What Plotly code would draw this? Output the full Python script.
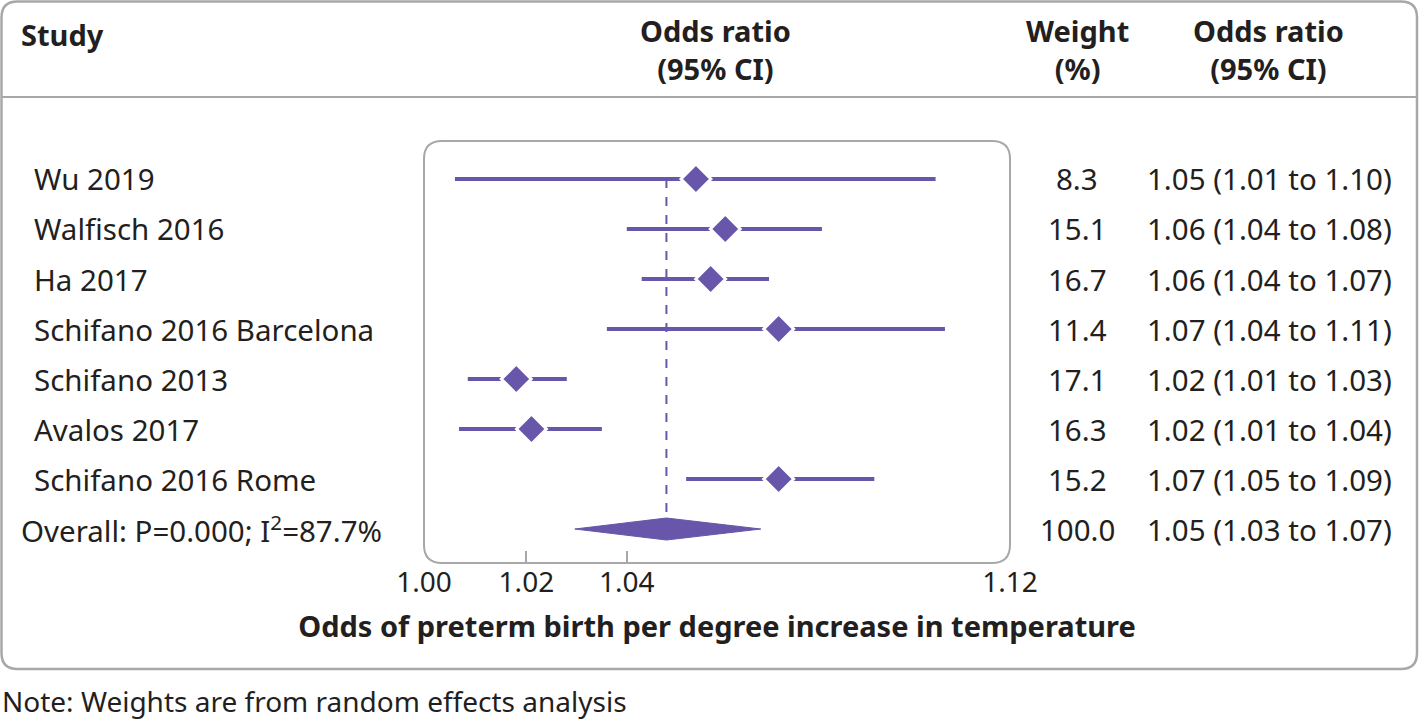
import plotly.graph_objects as go

studies = ["Wu 2019", "Walfisch 2016", "Ha 2017", "Schifano 2016 Barcelona",
           "Schifano 2013", "Avalos 2017", "Schifano 2016 Rome"]
odds = [1.054, 1.060, 1.057, 1.071, 1.018, 1.021, 1.071]
ci_low = [1.006, 1.040, 1.043, 1.036, 1.0085, 1.0068, 1.052]
ci_high = [1.104, 1.080, 1.069, 1.106, 1.028, 1.035, 1.091]
weights = ["8.3", "15.1", "16.7", "11.4", "17.1", "16.3", "15.2"]
or_text = ["1.05 (1.01 to 1.10)", "1.06 (1.04 to 1.08)", "1.06 (1.04 to 1.07)",
           "1.07 (1.04 to 1.11)", "1.02 (1.01 to 1.03)", "1.02 (1.01 to 1.04)",
           "1.07 (1.05 to 1.09)"]
overall = 1.048
overall_low = 1.0296
overall_high = 1.0673
overall_label = "Overall: P=0.000; I<sup>2</sup>=87.7%"
overall_weight = "100.0"
overall_text = "1.05 (1.03 to 1.07)"
tick_vals = [1.00, 1.02, 1.04, 1.12]
tick_text = ["1.00", "1.02", "1.04", "1.12"]

W, H = 1419, 723
purple = "#6756aa"
ink = "#231f20"
grey = "#a8a8a8"
font = "Noto Sans"
fsize = 29.5

rows = list(range(len(studies), 0, -1))  # 7..1, overall at 0

fig = go.Figure()

# dashed overall line
fig.add_trace(go.Scatter(x=[overall, overall], y=[rows[0], 0], mode="lines",
                         line=dict(color=purple, width=2, dash="dash"),
                         hoverinfo="skip", showlegend=False))

# confidence intervals
xs, ys = [], []
for lo, hi, r in zip(ci_low, ci_high, rows):
    xs += [lo, hi, None]
    ys += [r, r, None]
fig.add_trace(go.Scatter(x=xs, y=ys, mode="lines",
                         line=dict(color=purple, width=4),
                         hoverinfo="skip", showlegend=False))

# point estimates
fig.add_trace(go.Scatter(x=odds, y=rows, mode="markers",
                         marker=dict(symbol="diamond", size=23, color=purple,
                                     line=dict(color="white", width=3)),
                         showlegend=False))

# overall diamond
dh = 0.22
fig.add_trace(go.Scatter(x=[overall_low, overall, overall_high, overall, overall_low],
                         y=[0, dh, 0, -dh, 0], mode="lines", fill="toself",
                         fillcolor=purple, line=dict(color=purple, width=1),
                         hoverinfo="skip", showlegend=False))

x0p, x1p = 424 / W, 1010 / W
y0p, y1p = 1 - 563 / H, 1 - 141 / H

fig.update_xaxes(type="log", range=[0, 0.04922], domain=[x0p, x1p], automargin=False,
                 tickvals=tick_vals, ticktext=tick_text, ticks="",
                 tickfont=dict(family=font, size=28, color=ink),
                 showgrid=False, zeroline=False, showline=False,
                 minor=dict(tickvals=[1.02, 1.04], ticks="inside", ticklen=12,
                            tickwidth=2, tickcolor=grey, showgrid=False),
                 title=dict(text="<b>Odds of preterm birth per degree increase in temperature</b>",
                            font=dict(family=font, size=29, color=ink), standoff=17))
fig.update_yaxes(range=[-0.68, 7.76], domain=[y0p, y1p], visible=False, automargin=False)


def rounded(xa, ya, xb, yb, r):
    # rounded rectangle path in paper coords, pixel corners converted
    rx, ry = r / W, r / H
    X0, X1 = xa / W, xb / W
    Y0, Y1 = 1 - yb / H, 1 - ya / H
    return (f"M {X0+rx},{Y0} L {X1-rx},{Y0} Q {X1},{Y0} {X1},{Y0+ry} "
            f"L {X1},{Y1-ry} Q {X1},{Y1} {X1-rx},{Y1} L {X0+rx},{Y1} "
            f"Q {X0},{Y1} {X0},{Y1-ry} L {X0},{Y0+ry} Q {X0},{Y0} {X0+rx},{Y0} Z")


shapes = [
    dict(type="path", xref="paper", yref="paper", path=rounded(1.5, 1.5, 1417, 669, 16),
         line=dict(color=grey, width=2.5)),
    dict(type="path", xref="paper", yref="paper", path=rounded(424, 141, 1010, 563, 18),
         line=dict(color=grey, width=2)),
    dict(type="line", xref="paper", yref="paper", x0=1.5 / W, x1=1417 / W,
         y0=1 - 97 / H, y1=1 - 97 / H, line=dict(color=grey, width=2)),
]

ann = []
hdr_y = 1 - 50 / H
bold = dict(family=font, size=29, color=ink)
ann.append(dict(text="<b>Study</b>", x=19 / W, y=1 - 34 / H, xanchor="left", font=bold))
ann.append(dict(text="<b>Odds ratio<br>(95% CI)</b>", x=715 / W, y=hdr_y, xanchor="center", font=bold))
ann.append(dict(text="<b>Weight<br>(%)</b>", x=1077 / W, y=hdr_y, xanchor="center", font=bold))
ann.append(dict(text="<b>Odds ratio<br>(95% CI)</b>", x=1268 / W, y=hdr_y, xanchor="center", font=bold))

for s, w, t, r in zip(studies, weights, or_text, rows):
    ann.append(dict(text=s, x=32 / W, y=r, yref="y", xanchor="left"))
    ann.append(dict(text=w, x=1077 / W, y=r, yref="y", xanchor="center"))
    ann.append(dict(text=t, x=1269 / W, y=r, yref="y", xanchor="center"))
ann.append(dict(text=overall_label, x=19 / W, y=0, yref="y", xanchor="left"))
ann.append(dict(text=overall_weight, x=1077 / W, y=0, yref="y", xanchor="center"))
ann.append(dict(text=overall_text, x=1269 / W, y=0, yref="y", xanchor="center"))

ann.append(dict(text="Note: Weights are from random effects analysis",
                x=0, y=1 - 701 / H, xanchor="left",
                font=dict(family=font, size=28, color=ink)))

for a in ann:
    a.setdefault("xref", "paper")
    a.setdefault("yref", "paper")
    a.setdefault("font", dict(family=font, size=fsize, color=ink))
    a["yanchor"] = "middle"
    a["showarrow"] = False

fig.update_layout(width=W, height=H, margin=dict(l=0, r=0, t=0, b=0, pad=0),
                  plot_bgcolor="white", paper_bgcolor="white",
                  shapes=shapes, annotations=ann, showlegend=False)

fig.write_html("out.html", config={"displayModeBar": False},
               post_script="document.body.style.margin='0';")
